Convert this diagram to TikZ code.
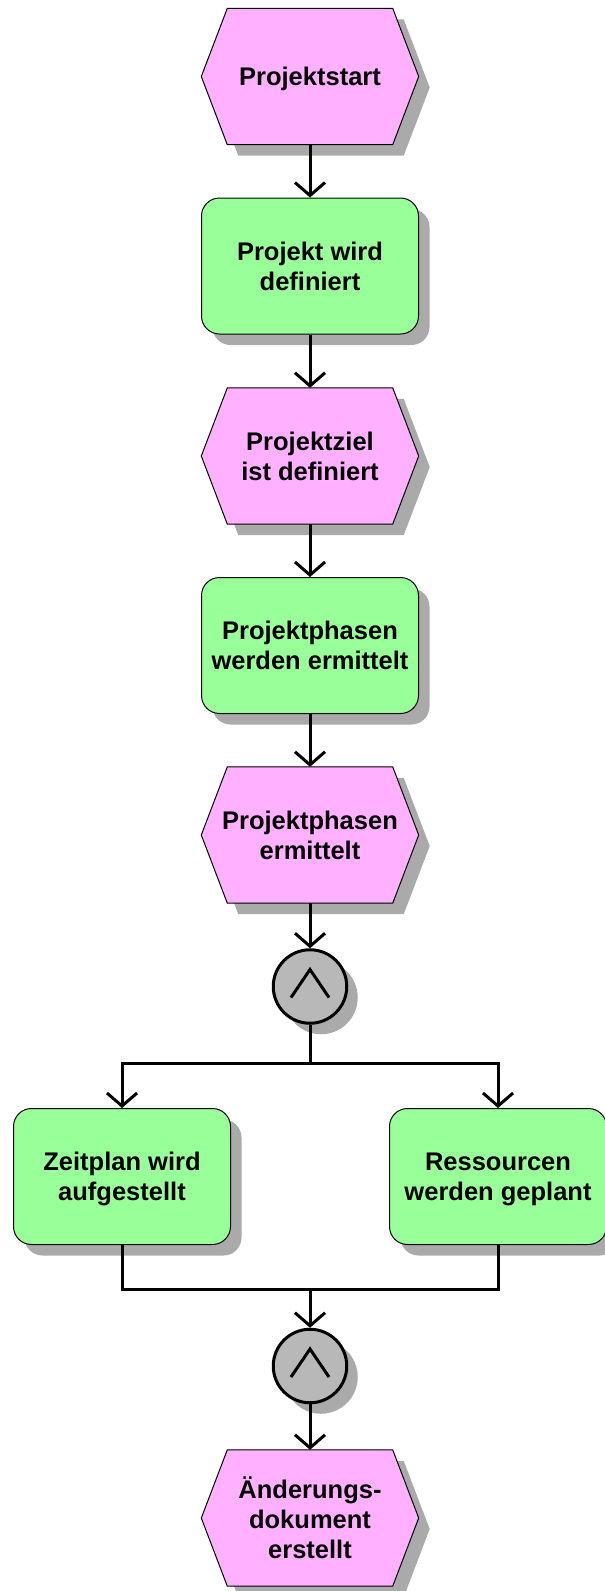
\documentclass[tikz,border=0pt]{standalone}
\usepackage{fontspec}
\setmainfont{Liberation Sans}
\usetikzlibrary{arrows.meta,shadows}
\pgfdeclarelayer{background}
\pgfsetlayers{background,main}

\definecolor{evpink}{RGB}{255,176,255}
\definecolor{fngreen}{RGB}{153,255,153}
\definecolor{conngray}{RGB}{184,184,184}
\definecolor{shgray}{RGB}{170,170,170}

% hexagonal outline around a named event node, shifted by #2
\newcommand\hexoutline[2]{%
  ([shift={#2}]#1.west)
  -- ([shift={#2},xshift=26pt]#1.north west)
  -- ([shift={#2},xshift=-26pt]#1.north east)
  -- ([shift={#2}]#1.east)
  -- ([shift={#2},xshift=-26pt]#1.south east)
  -- ([shift={#2},xshift=26pt]#1.south west) -- cycle}

% event body with its shadow, drawn behind the text
\newcommand\eventshape[1]{%
  \begin{pgfonlayer}{background}
    \fill[shgray] \hexoutline{#1}{(11pt,-11pt)};
    \filldraw[fill=evpink,draw=black,line width=1pt] \hexoutline{#1}{(0pt,0pt)};
  \end{pgfonlayer}}

\tikzset{
  label font/.style={font=\bfseries\fontsize{25.5}{30}\selectfont},
  shade box/.style={drop shadow={shadow xshift=11pt,shadow yshift=-11pt,fill=shgray,opacity=1}},
  event/.style={rectangle, minimum width=217pt, minimum height=136pt,
    inner sep=0pt, align=center, text depth=0pt, label font},
  func/.style={rectangle, rounded corners=18pt, minimum width=217pt,
    minimum height=136pt, inner sep=0pt, align=center, text depth=0pt,
    fill=fngreen, draw=black, line width=1pt, shade box, label font},
  andconn/.style={circle, minimum size=73.5pt, inner sep=0pt,
    fill=conngray, draw=black, line width=3pt, shade box,
    path picture={\draw[line width=3pt]
      ([shift={(-19pt,-11pt)}]path picture bounding box.center)
      -- ([shift={(0pt,17pt)}]path picture bounding box.center)
      -- ([shift={(19pt,-11pt)}]path picture bounding box.center);}},
  conn/.style={line width=3pt},
  flow/.style={conn, -{Straight Barb[length=13pt,width=30pt]}}
}

\begin{document}
\begin{tikzpicture}[x=1pt,y=-1pt]
  \useasboundingbox (0,0) rectangle (605,1591);

  \node[event] (e1) at (310,76.5) {Projektstart};
  \node[func]  (f1) at (310,266) {Projekt wird\\definiert};
  \node[event] (e2) at (310,456) {Projektziel\\ist definiert};
  \node[func]  (f2) at (310,645.5) {Projektphasen\\werden ermittelt};
  \node[event] (e3) at (310,835) {Projektphasen\\ermittelt};
  \node[andconn] (a1) at (310,986.5) {};
  \coordinate (split) at (310,1063);
  \node[func]  (f3) at (122,1176.5) {Zeitplan wird\\aufgestellt};
  \node[func]  (f4) at (498,1176.5) {Ressourcen\\werden geplant};
  \coordinate (join) at (310,1289);
  \node[andconn] (a2) at (310,1366) {};
  \node[event] (e4) at (310,1518) {Änderungs-\\dokument\\erstellt};

  \eventshape{e1}
  \eventshape{e2}
  \eventshape{e3}
  \eventshape{e4}

  \draw[flow] (e1.south) -- (f1.north);
  \draw[flow] (f1.south) -- (e2.north);
  \draw[flow] (e2.south) -- (f2.north);
  \draw[flow] (f2.south) -- (e3.north);
  \draw[flow] (e3.south) -- (a1.north);

  \draw[conn] (a1.south) -- (split);
  \draw[flow] (split) -| (f3.north);
  \draw[flow] (split) -| (f4.north);

  \draw[conn] (f3.south) |- (join);
  \draw[conn] (f4.south) |- (join);
  \draw[flow] (join) -- (a2.north);
  \draw[flow] (a2.south) -- (e4.north);
\end{tikzpicture}
\end{document}
